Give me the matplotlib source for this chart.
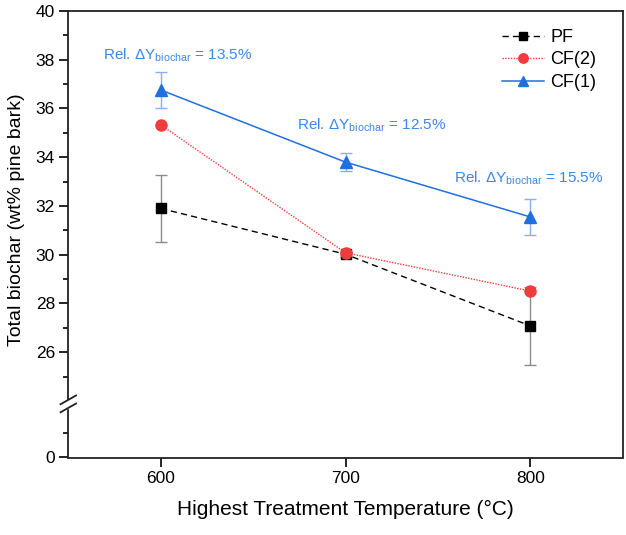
import matplotlib
matplotlib.use('Agg')
import matplotlib.pyplot as plt
import matplotlib.transforms as mtransforms
from matplotlib.ticker import FixedLocator

plt.rcParams['font.family'] = ['Liberation Sans', 'DejaVu Sans']
plt.rcParams['mathtext.fontset'] = 'custom'
plt.rcParams['mathtext.rm'] = 'Liberation Sans'
plt.rcParams['mathtext.it'] = 'Liberation Sans'

# data
temps = [600, 700, 800]
pf = [31.9, 30.02, 27.08]
pf_err = [1.36, 0.1, 1.6]
cf2 = [35.33, 30.08, 28.51]
cf1 = [36.76, 33.8, 31.55]
cf1_err = [0.74, 0.36, 0.74]
rel_labels = ['13.5%', '12.5%', '15.5%']

y_zero = 21.68  # where "0" sits below the axis break
y_break = 23.88

fig = plt.figure(figsize=(6.26, 5.35), dpi=100)
ax = fig.add_axes([68.3 / 626, 77.5 / 535, (622.7 - 68.3) / 626, 446.5 / 535])

ax.errorbar(temps, pf, yerr=pf_err, fmt='none', ecolor='#8c8c8c', elinewidth=1,
            capsize=4, capthick=1, zorder=2)
ax.errorbar(temps, cf1, yerr=cf1_err, fmt='none', ecolor='#86b2ec', elinewidth=1,
            capsize=4, capthick=1, zorder=2)

l_pf, = ax.plot(temps, pf, color='black', linestyle=(0, (4.5, 3)), linewidth=1,
                marker='s', markersize=6.5, label='PF', zorder=3)
l_cf2, = ax.plot(temps, cf2, color='#f03c3c', linestyle=(0, (1, 1)), linewidth=1,
                 marker='o', markersize=8, label='CF(2)', zorder=4)
l_cf1, = ax.plot(temps, cf1, color='#1f6fe0', linestyle='-', linewidth=1.1,
                 marker='^', markersize=8.5, label='CF(1)', zorder=5)

# relative difference annotations
txt_pos = [(177.5, 55), (371.5, 125), (528.5, 178)]
for (px, py), lab in zip(txt_pos, rel_labels):
    ax.text(px / 626, 1 - py / 535, r'Rel. $\Delta$Y$_{\mathregular{biochar}}$ = ' + lab,
            transform=fig.transFigure, ha='center', va='center', fontsize=11,
            color='#3a86ea')

ax.set_xlim(550, 850)
ax.set_ylim(y_zero, 40)
ax.set_xticks(temps)
ax.yaxis.set_major_locator(FixedLocator([y_zero, 26, 28, 30, 32, 34, 36, 38, 40]))
ax.set_yticklabels(['0', '26', '28', '30', '32', '34', '36', '38', '40'])
ax.yaxis.set_minor_locator(FixedLocator([y_zero + 1, 25, 27, 29, 31, 33, 35, 37, 39]))

ax.tick_params(axis='both', which='major', direction='out', length=6.5, width=1.2,
               labelsize=12.5, pad=3)
ax.tick_params(axis='y', which='minor', direction='out', length=3.5, width=1.2)
for s in ax.spines.values():
    s.set_linewidth(1.3)
    s.set_color('#222222')

# axis break marks on the left spine
trans = mtransforms.blended_transform_factory(ax.transAxes, ax.transData)
gap = 0.33
ax.fill_between([-0.006, 0.006], y_break - gap / 2, y_break + gap / 2, color='white',
                transform=trans, clip_on=False, zorder=10)
for dy in (-gap / 2, gap / 2):
    ax.plot([-0.014, 0.014], [y_break + dy - 0.18, y_break + dy + 0.18], color='#222222',
            linewidth=1.3, transform=trans, clip_on=False, zorder=11)

ax.set_xlabel('Highest Treatment Temperature (°C)', fontsize=15, labelpad=10)
ax.set_ylabel('Total biochar (wt% pine bark)', fontsize=14)
ax.yaxis.set_label_coords(-0.078, 0.532)

ax.legend(handles=[l_pf, l_cf2, l_cf1], loc='upper right', frameon=False, fontsize=13,
          handlelength=2.3, handletextpad=0.35, labelspacing=0.3, borderaxespad=0.6,
          markerscale=0.85, bbox_to_anchor=(0.985, 1.0))

fig.savefig('out.png', dpi=100)
